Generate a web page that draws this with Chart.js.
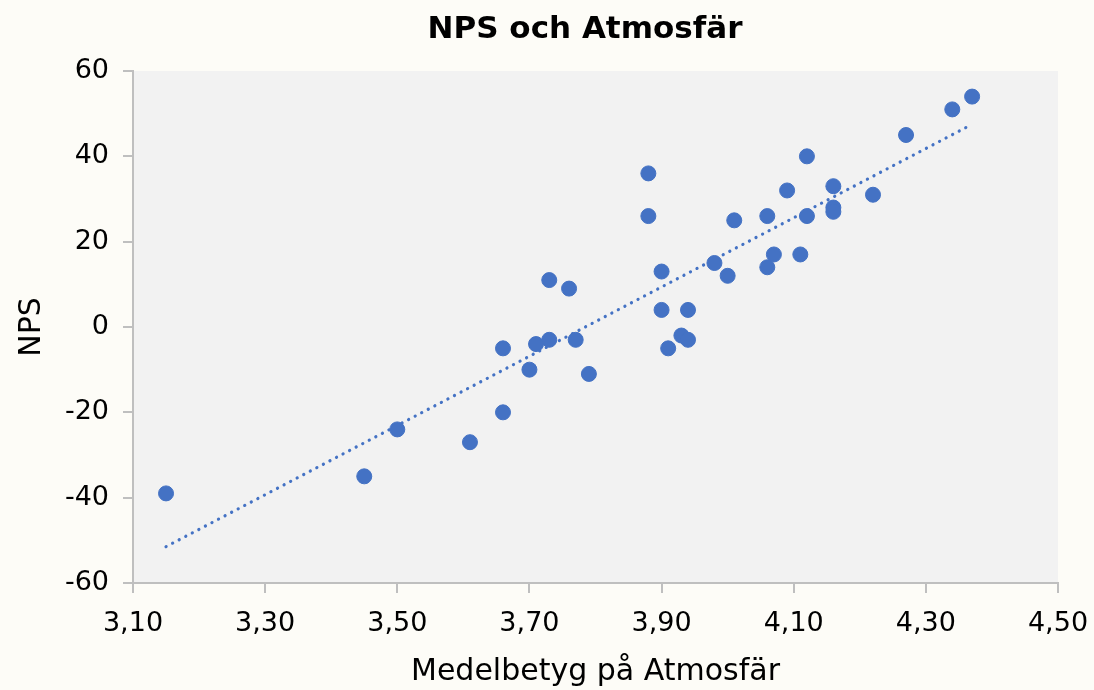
<!DOCTYPE html>
<html>
<head>
<meta charset="utf-8">
<script src="https://cdn.jsdelivr.net/npm/chart.js@4/dist/chart.umd.min.js"></script>
<style>
html, body { margin: 0; padding: 0; background: #fdfcf7; }
#wrap { width: 1094px; height: 690px; }
</style>
</head>
<body>
<div id="wrap"><canvas id="npsChart" width="1094" height="690"></canvas></div>
<script>
// Medelbetyg på atmosfär per enhet och motsvarande NPS
const atmosfar = [3.15, 3.45, 3.50, 3.61, 3.66, 3.66, 3.70, 3.71, 3.73, 3.73,
  3.76, 3.77, 3.79, 3.88, 3.88, 3.90, 3.90, 3.91, 3.93, 3.94,
  3.94, 3.98, 4.00, 4.01, 4.06, 4.06, 4.07, 4.09, 4.11, 4.12,
  4.12, 4.16, 4.16, 4.16, 4.22, 4.27, 4.34, 4.37];
const nps = [-39, -35, -24, -27, -20, -5, -10, -4, 11, -3,
  9, -3, -11, 36, 26, 13, 4, -5, -2, -3,
  4, 15, 12, 25, 26, 14, 17, 32, 17, 40,
  26, 33, 28, 27, 31, 45, 51, 54];

const xTicks = [3.10, 3.30, 3.50, 3.70, 3.90, 4.10, 4.30, 4.50];
const yTicks = [-60, -40, -20, 0, 20, 40, 60];

const chartTitle = "NPS och Atmosfär";

// linjär trendlinje (minsta kvadrat)
const n = atmosfar.length;
const mx = atmosfar.reduce((a, b) => a + b, 0) / n;
const my = nps.reduce((a, b) => a + b, 0) / n;
let sxy = 0, sxx = 0;
for (let i = 0; i < n; i++) {
  sxy += (atmosfar[i] - mx) * (nps[i] - my);
  sxx += (atmosfar[i] - mx) ** 2;
}
const slope = sxy / sxx;
const icpt = my - slope * mx;
const xMin = Math.min(...atmosfar), xMax = Math.max(...atmosfar);
const trend = [xMin, xMax].map(x => ({ x: x, y: icpt + slope * x }));

const blue = "#4472c4";
const axisGrey = "#bfbfbf";
const font = "'DejaVu Sans', sans-serif";

// grå bakgrund i diagramytan + rubrik
const plotBg = {
  id: "plotBg",
  beforeDraw(chart) {
    const a = chart.chartArea, ctx = chart.ctx;
    ctx.save();
    ctx.fillStyle = "#f2f2f2";
    ctx.fillRect(a.left, a.top, a.right - a.left, a.bottom - a.top);
    ctx.restore();
  },
  afterDraw(chart) {
    const ctx = chart.ctx;
    ctx.save();
    ctx.fillStyle = "#000";
    ctx.font = "bold 31px " + font;
    ctx.textAlign = "center";
    ctx.textBaseline = "middle";
    ctx.fillText(chartTitle, 585, 30);
    ctx.restore();
  }
};

new Chart(document.getElementById("npsChart"), {
  type: "scatter",
  data: {
    datasets: [
      {
        label: "NPS",
        data: atmosfar.map((x, i) => ({ x: x, y: nps[i] })),
        backgroundColor: blue,
        borderColor: blue,
        pointRadius: 7.5,
        pointHoverRadius: 7.5,
        order: 1
      },
      {
        label: "Trend",
        type: "line",
        data: trend,
        borderColor: blue,
        borderWidth: 3.2,
        borderDash: [0.1, 7.3],
        borderCapStyle: "round",
        pointRadius: 0,
        fill: false,
        order: 2
      }
    ]
  },
  options: {
    responsive: false,
    animation: false,
    layout: { padding: { left: 0, right: 36, top: 71, bottom: 0 } },
    plugins: {
      legend: { display: false },
      tooltip: { enabled: false },
      title: { display: false }
    },
    scales: {
      x: {
        type: "linear",
        min: 3.1,
        max: 4.5,
        afterBuildTicks: s => { s.ticks = xTicks.map(v => ({ value: v })); },
        afterFit: s => { s.height = 107; s.paddingLeft = 0; s.paddingRight = 0; },
        border: { color: axisGrey, width: 2 },
        grid: { drawOnChartArea: false, color: axisGrey, lineWidth: 2, tickLength: 10 },
        ticks: {
          color: "#000",
          font: { family: font, size: 27 },
          padding: 15,
          maxRotation: 0,
          callback: v => v.toFixed(2).replace(".", ",")
        },
        title: {
          display: true,
          text: "Medelbetyg på Atmosfär",
          color: "#000",
          font: { family: font, size: 30 },
          padding: { top: 0, bottom: 0 }
        }
      },
      y: {
        type: "linear",
        min: -60,
        max: 60,
        afterBuildTicks: s => { s.ticks = yTicks.map(v => ({ value: v })); },
        afterFit: s => { s.width = 133; },
        border: { color: axisGrey, width: 2 },
        grid: { drawOnChartArea: false, color: axisGrey, lineWidth: 2, tickLength: 10 },
        ticks: {
          color: "#000",
          font: { family: font, size: 27 },
          padding: 14
        },
        title: {
          display: true,
          text: "NPS",
          color: "#000",
          font: { family: font, size: 30 },
          padding: { top: 14, bottom: 0 }
        }
      }
    }
  },
  plugins: [plotBg]
});
</script>
</body>
</html>
